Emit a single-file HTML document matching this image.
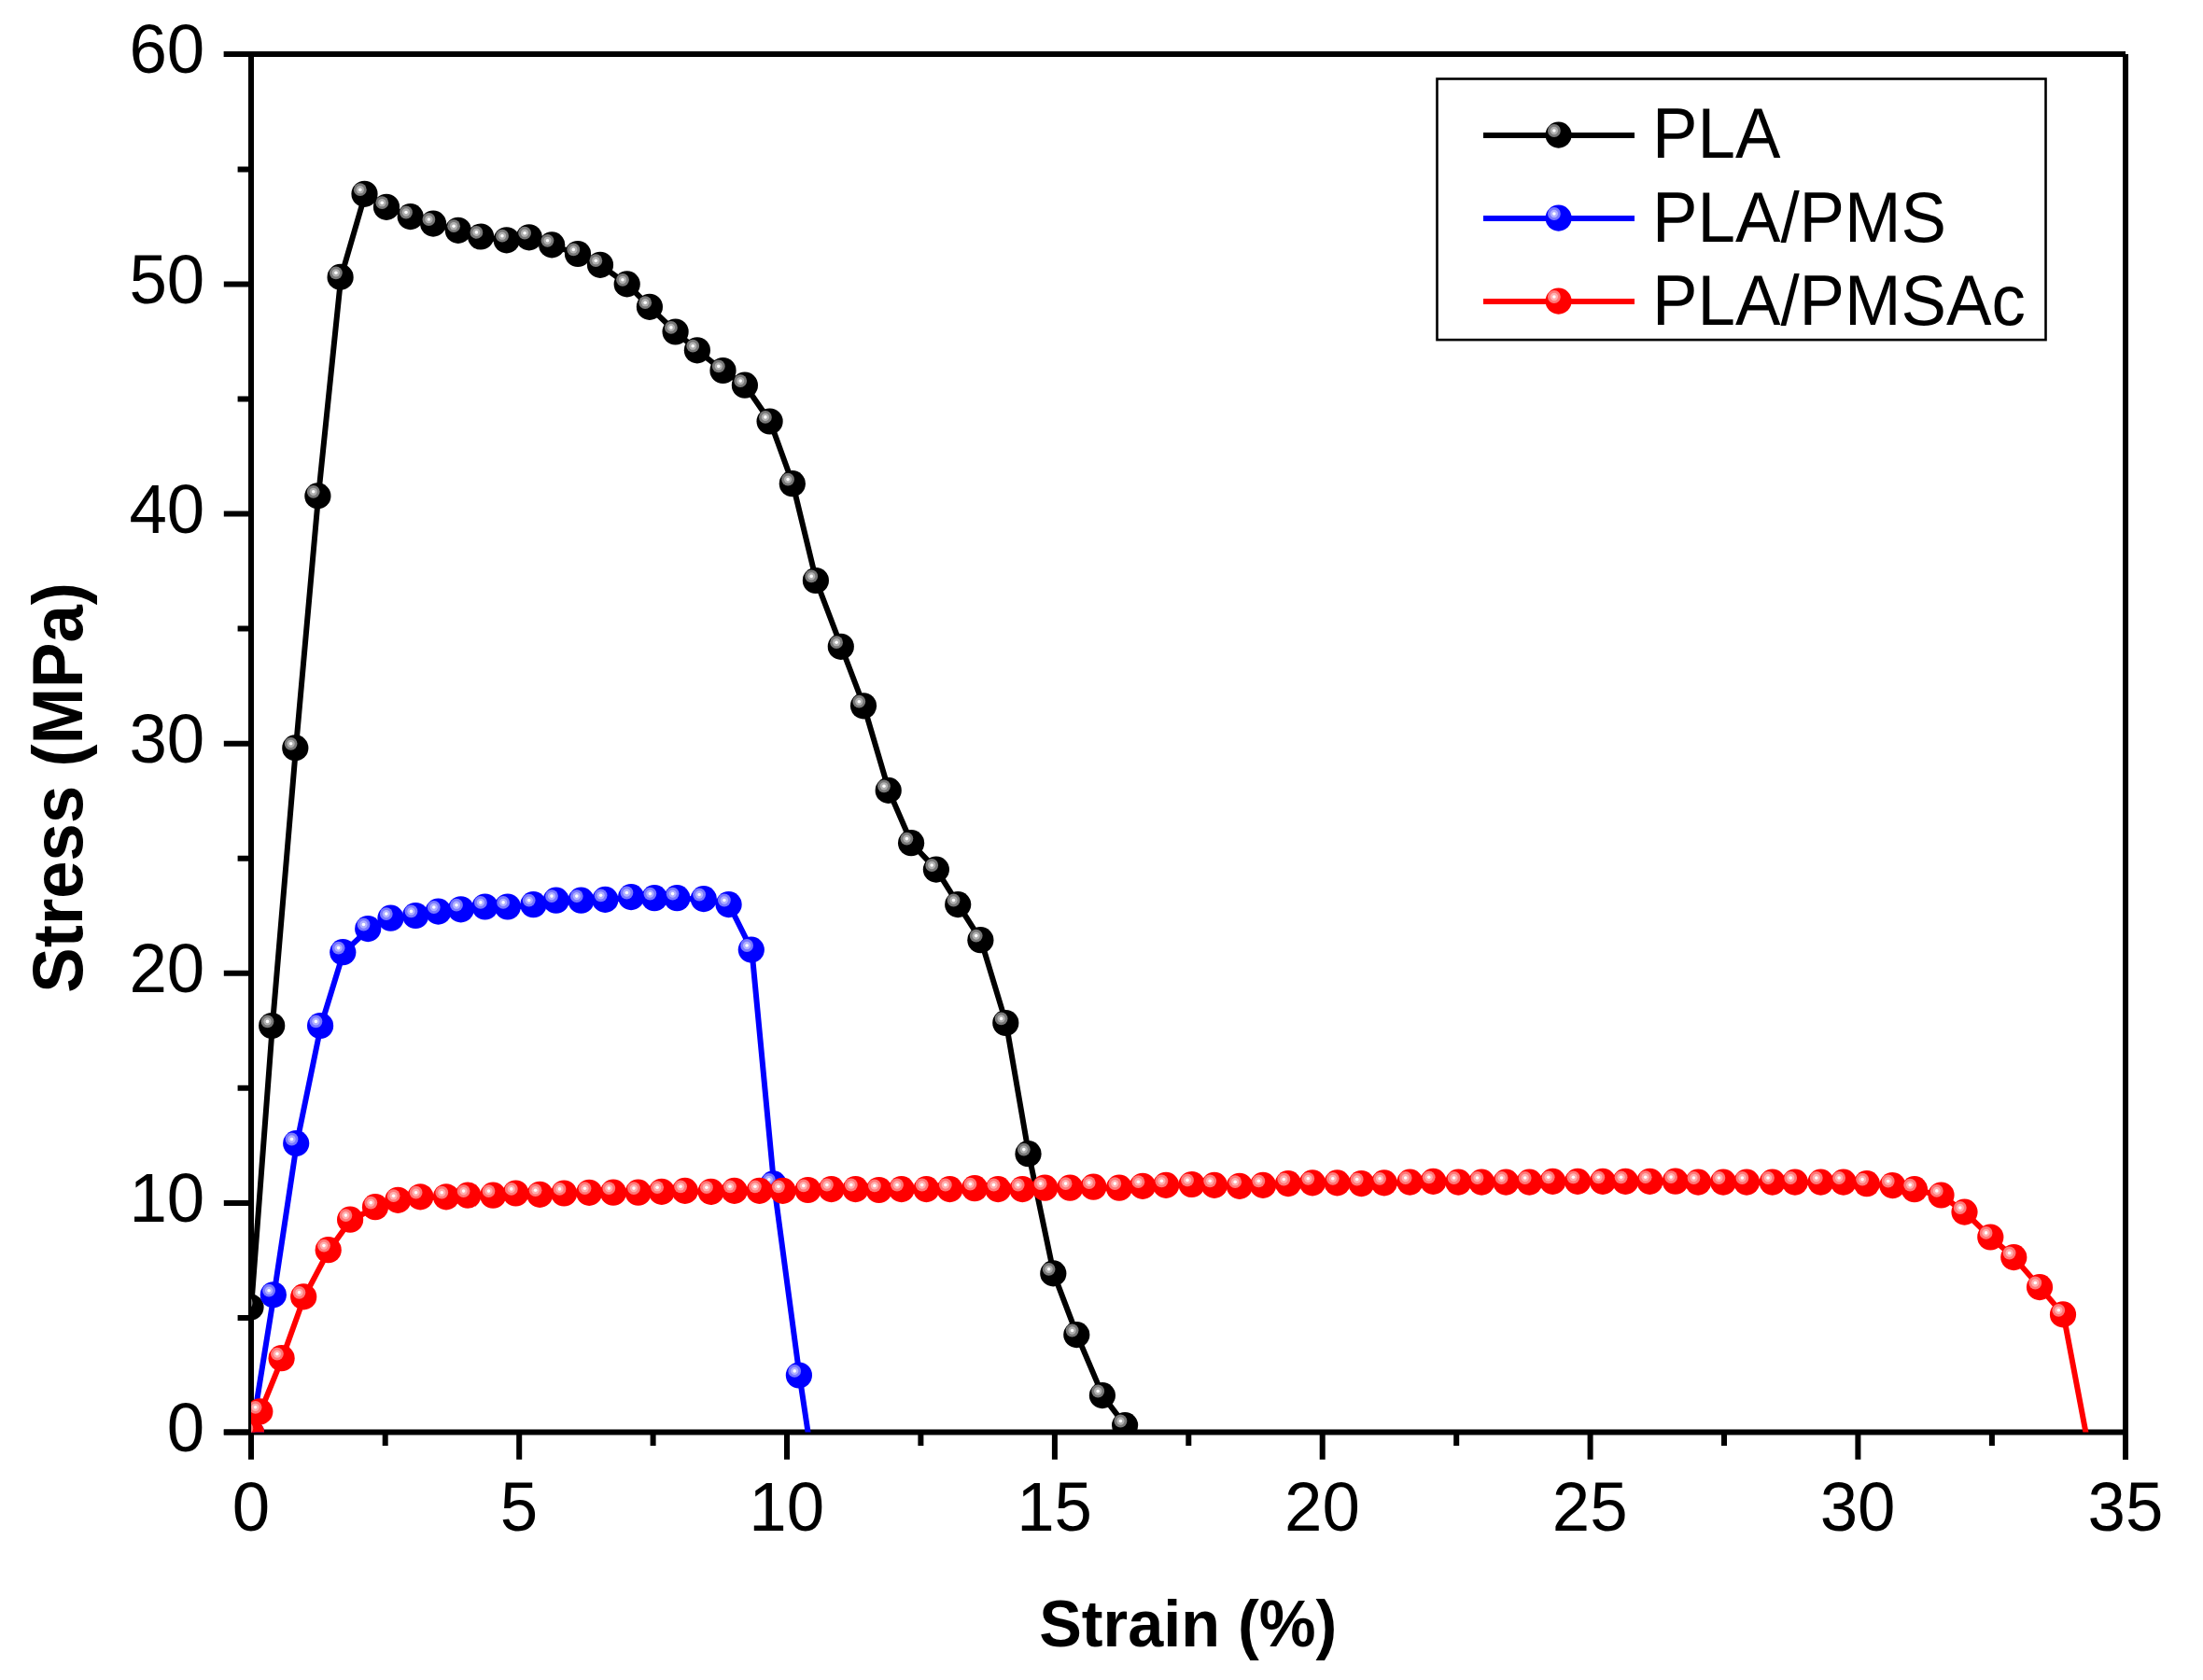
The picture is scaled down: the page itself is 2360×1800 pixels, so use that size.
<!DOCTYPE html>
<html lang="en">
<head>
<meta charset="utf-8">
<title>Stress-Strain curves: PLA, PLA/PMS, PLA/PMSAc</title>
<style>
html,body{margin:0;padding:0;background:#fff;}
body{width:2360px;height:1800px;overflow:hidden;}
svg{display:block;}
text{font-family:"Liberation Sans",sans-serif;fill:#000;}
.tick{font-size:72.7px;}
.leg{font-size:72.7px;}
.ttl{font-weight:bold;}
</style>
</head>
<body>
<svg width="2360" height="1800" viewBox="0 0 2360 1800">
<defs>
<clipPath id="plot"><rect x="269" y="58" width="2008" height="1476.6"/></clipPath>
<g id="hl"><circle cx="-4.7" cy="-4.6" r="6.9" fill="#fff" fill-opacity="0.47"/><circle cx="-4.7" cy="-4.6" r="4.15" fill="#fff" fill-opacity="0.42"/><circle cx="-4.7" cy="-4.6" r="1.8" fill="#fff"/></g>
<g id="mk"><circle r="14.1" fill="#000"/><use href="#hl"/></g>
<g id="mb"><circle r="14.1" fill="#0000ff"/><use href="#hl"/></g>
<g id="mr"><circle r="14.1" fill="#ff0000"/><use href="#hl"/></g>
</defs>
<rect width="2360" height="1800" fill="#fff"/>

<g stroke="#000" stroke-width="6" fill="none" stroke-linecap="butt">
<path d="M269 55 V1537.6"/>
<path d="M2277 58 V1563.8"/>
<path d="M239.8 58 H2277"/>
<path d="M239.8 1534.6 H2277"/>
<path d="M269 1534.6 V1563.8 M412.7 1534.6 V1549 M556.2 1534.6 V1563.8 M699.6 1534.6 V1549 M843 1534.6 V1563.8 M986.4 1534.6 V1549 M1129.9 1534.6 V1563.8 M1273.3 1534.6 V1549 M1416.7 1534.6 V1563.8 M1560.2 1534.6 V1549 M1703.6 1534.6 V1563.8 M1847 1534.6 V1549 M1990.4 1534.6 V1563.8 M2133.9 1534.6 V1549 M2277 1534.6 V1563.8"/>
<path d="M269 1534.6 H239.8 M269 1412 H254.6 M269 1288.9 H239.8 M269 1165.8 H254.6 M269 1042.8 H239.8 M269 919.7 H254.6 M269 796.7 H239.8 M269 673.6 H254.6 M269 550.6 H239.8 M269 427.5 H254.6 M269 304.5 H239.8 M269 181.4 H254.6 M269 58 H239.8"/>
</g>
<g clip-path="url(#plot)">
<path transform="translate(0.6 0.5)" d="M268.5 1400.5 L291.2 1099 L316.3 801.4 L340.4 531.4 L364.6 296.9 L390.5 207.8 L414 221.8 L439.7 232.1 L464.1 239.6 L490.8 246.8 L515.1 253.5 L542.7 257.3 L566.8 254.3 L591.2 262.4 L619 272 L643 283.8 L671.7 304.4 L695.9 328.8 L723.6 355.5 L746.9 375.3 L774.5 397 L797.9 412.7 L824.6 451.5 L848.8 518.2 L873.9 622 L900.8 692.8 L925 756.3 L951.7 846.9 L976.1 903.2 L1002.9 931.6 L1026.2 969.1 L1050.4 1007.2 L1077.3 1096 L1101.5 1236.2 L1128.3 1364.4 L1153.3 1430.1 L1180.9 1495.1 L1205.1 1527.1" fill="none" stroke="#000" stroke-width="6" stroke-linejoin="round" stroke-linecap="butt"/>
<use href="#mk" x="268.5" y="1400.5"/>
<use href="#mk" x="291.2" y="1099"/>
<use href="#mk" x="316.3" y="801.4"/>
<use href="#mk" x="340.4" y="531.4"/>
<use href="#mk" x="364.6" y="296.9"/>
<use href="#mk" x="390.5" y="207.8"/>
<use href="#mk" x="414" y="221.8"/>
<use href="#mk" x="439.7" y="232.1"/>
<use href="#mk" x="464.1" y="239.6"/>
<use href="#mk" x="490.8" y="246.8"/>
<use href="#mk" x="515.1" y="253.5"/>
<use href="#mk" x="542.7" y="257.3"/>
<use href="#mk" x="566.8" y="254.3"/>
<use href="#mk" x="591.2" y="262.4"/>
<use href="#mk" x="619" y="272"/>
<use href="#mk" x="643" y="283.8"/>
<use href="#mk" x="671.7" y="304.4"/>
<use href="#mk" x="695.9" y="328.8"/>
<use href="#mk" x="723.6" y="355.5"/>
<use href="#mk" x="746.9" y="375.3"/>
<use href="#mk" x="774.5" y="397"/>
<use href="#mk" x="797.9" y="412.7"/>
<use href="#mk" x="824.6" y="451.5"/>
<use href="#mk" x="848.8" y="518.2"/>
<use href="#mk" x="873.9" y="622"/>
<use href="#mk" x="900.8" y="692.8"/>
<use href="#mk" x="925" y="756.3"/>
<use href="#mk" x="951.7" y="846.9"/>
<use href="#mk" x="976.1" y="903.2"/>
<use href="#mk" x="1002.9" y="931.6"/>
<use href="#mk" x="1026.2" y="969.1"/>
<use href="#mk" x="1050.4" y="1007.2"/>
<use href="#mk" x="1077.3" y="1096"/>
<use href="#mk" x="1101.5" y="1236.2"/>
<use href="#mk" x="1128.3" y="1364.4"/>
<use href="#mk" x="1153.3" y="1430.1"/>
<use href="#mk" x="1180.9" y="1495.1"/>
<use href="#mk" x="1205.1" y="1527.1"/>
<path transform="translate(0.6 0.5)" d="M269 1535 L292.8 1387.3 L317.2 1225.1 L343.1 1099 L367.3 1020.2 L394.2 995.1 L418.5 983.7 L445.2 981 L469.5 976.6 L493.7 974.3 L519.6 971.5 L543.8 971.5 L571.4 969.2 L595.7 964.7 L622.5 964.7 L648.3 963.9 L676.1 961.1 L701.1 962.2 L725.3 962.2 L753.8 963.1 L780.6 969.1 L804.8 1017.6 L828.5 1268.4 L855.9 1473.5 L866.3 1543" fill="none" stroke="#0000ff" stroke-width="6" stroke-linejoin="round" stroke-linecap="butt"/>
<use href="#mb" x="269" y="1535"/>
<use href="#mb" x="292.8" y="1387.3"/>
<use href="#mb" x="317.2" y="1225.1"/>
<use href="#mb" x="343.1" y="1099"/>
<use href="#mb" x="367.3" y="1020.2"/>
<use href="#mb" x="394.2" y="995.1"/>
<use href="#mb" x="418.5" y="983.7"/>
<use href="#mb" x="445.2" y="981"/>
<use href="#mb" x="469.5" y="976.6"/>
<use href="#mb" x="493.7" y="974.3"/>
<use href="#mb" x="519.6" y="971.5"/>
<use href="#mb" x="543.8" y="971.5"/>
<use href="#mb" x="571.4" y="969.2"/>
<use href="#mb" x="595.7" y="964.7"/>
<use href="#mb" x="622.5" y="964.7"/>
<use href="#mb" x="648.3" y="963.9"/>
<use href="#mb" x="676.1" y="961.1"/>
<use href="#mb" x="701.1" y="962.2"/>
<use href="#mb" x="725.3" y="962.2"/>
<use href="#mb" x="753.8" y="963.1"/>
<use href="#mb" x="780.6" y="969.1"/>
<use href="#mb" x="804.8" y="1017.6"/>
<use href="#mb" x="828.5" y="1268.4"/>
<use href="#mb" x="855.9" y="1473.5"/>
<path transform="translate(0.6 0.5)" d="M269 1535 L278.3 1512.4 L301.6 1455.2 L325.2 1389.4 L351.7 1339.2 L375.1 1306.7 L402 1293.2 L426.3 1285.8 L450.3 1282.3 L478 1282.3 L501.3 1280.7 L528.2 1280.7 L552.5 1278.5 L578.3 1279.8 L604.2 1278.5 L631.2 1277.8 L657 1277.7 L683.7 1277.7 L708.8 1276.8 L733.8 1275.9 L761.6 1276.8 L786.7 1275.9 L813.6 1275.9 L838.6 1275.9 L865.5 1275 L890.6 1274.1 L916.5 1274.1 L941.6 1275 L965.7 1274.1 L992.4 1274.1 L1017.5 1274.1 L1044.1 1273.2 L1069.2 1274.1 L1095.3 1274.1 L1119.3 1272.7 L1146.3 1272.7 L1171.4 1271.7 L1199 1272.7 L1224.1 1270.8 L1249.1 1269.9 L1276.7 1269 L1300.9 1269.9 L1327.9 1270.8 L1353 1269.9 L1380 1268.1 L1406 1267.4 L1432.5 1267.4 L1458.4 1268.1 L1482.8 1267.4 L1510.4 1266.6 L1535.4 1265.9 L1562.3 1266.6 L1587.2 1266.6 L1613.3 1266.6 L1638.4 1266.6 L1663.4 1265.9 L1690.1 1265.9 L1717 1265.9 L1741.3 1265.9 L1767.4 1265.8 L1794.8 1265.7 L1819.2 1266.6 L1846.1 1266.6 L1871.1 1266.6 L1898.7 1266.6 L1922.9 1266.6 L1950.5 1266.6 L1974.8 1266.6 L1999.8 1268.2 L2027.4 1270.1 L2050.9 1274.2 L2079.5 1280.5 L2104.5 1298.6 L2132.3 1325.5 L2157.3 1347.1 L2185 1379.1 L2210 1408.4 L2235.5 1543" fill="none" stroke="#ff0000" stroke-width="6" stroke-linejoin="round" stroke-linecap="butt"/>
<use href="#mr" x="269" y="1535"/>
<use href="#mr" x="278.3" y="1512.4"/>
<use href="#mr" x="301.6" y="1455.2"/>
<use href="#mr" x="325.2" y="1389.4"/>
<use href="#mr" x="351.7" y="1339.2"/>
<use href="#mr" x="375.1" y="1306.7"/>
<use href="#mr" x="402" y="1293.2"/>
<use href="#mr" x="426.3" y="1285.8"/>
<use href="#mr" x="450.3" y="1282.3"/>
<use href="#mr" x="478" y="1282.3"/>
<use href="#mr" x="501.3" y="1280.7"/>
<use href="#mr" x="528.2" y="1280.7"/>
<use href="#mr" x="552.5" y="1278.5"/>
<use href="#mr" x="578.3" y="1279.8"/>
<use href="#mr" x="604.2" y="1278.5"/>
<use href="#mr" x="631.2" y="1277.8"/>
<use href="#mr" x="657" y="1277.7"/>
<use href="#mr" x="683.7" y="1277.7"/>
<use href="#mr" x="708.8" y="1276.8"/>
<use href="#mr" x="733.8" y="1275.9"/>
<use href="#mr" x="761.6" y="1276.8"/>
<use href="#mr" x="786.7" y="1275.9"/>
<use href="#mr" x="813.6" y="1275.9"/>
<use href="#mr" x="838.6" y="1275.9"/>
<use href="#mr" x="865.5" y="1275"/>
<use href="#mr" x="890.6" y="1274.1"/>
<use href="#mr" x="916.5" y="1274.1"/>
<use href="#mr" x="941.6" y="1275"/>
<use href="#mr" x="965.7" y="1274.1"/>
<use href="#mr" x="992.4" y="1274.1"/>
<use href="#mr" x="1017.5" y="1274.1"/>
<use href="#mr" x="1044.1" y="1273.2"/>
<use href="#mr" x="1069.2" y="1274.1"/>
<use href="#mr" x="1095.3" y="1274.1"/>
<use href="#mr" x="1119.3" y="1272.7"/>
<use href="#mr" x="1146.3" y="1272.7"/>
<use href="#mr" x="1171.4" y="1271.7"/>
<use href="#mr" x="1199" y="1272.7"/>
<use href="#mr" x="1224.1" y="1270.8"/>
<use href="#mr" x="1249.1" y="1269.9"/>
<use href="#mr" x="1276.7" y="1269"/>
<use href="#mr" x="1300.9" y="1269.9"/>
<use href="#mr" x="1327.9" y="1270.8"/>
<use href="#mr" x="1353" y="1269.9"/>
<use href="#mr" x="1380" y="1268.1"/>
<use href="#mr" x="1406" y="1267.4"/>
<use href="#mr" x="1432.5" y="1267.4"/>
<use href="#mr" x="1458.4" y="1268.1"/>
<use href="#mr" x="1482.8" y="1267.4"/>
<use href="#mr" x="1510.4" y="1266.6"/>
<use href="#mr" x="1535.4" y="1265.9"/>
<use href="#mr" x="1562.3" y="1266.6"/>
<use href="#mr" x="1587.2" y="1266.6"/>
<use href="#mr" x="1613.3" y="1266.6"/>
<use href="#mr" x="1638.4" y="1266.6"/>
<use href="#mr" x="1663.4" y="1265.9"/>
<use href="#mr" x="1690.1" y="1265.9"/>
<use href="#mr" x="1717" y="1265.9"/>
<use href="#mr" x="1741.3" y="1265.9"/>
<use href="#mr" x="1767.4" y="1265.8"/>
<use href="#mr" x="1794.8" y="1265.7"/>
<use href="#mr" x="1819.2" y="1266.6"/>
<use href="#mr" x="1846.1" y="1266.6"/>
<use href="#mr" x="1871.1" y="1266.6"/>
<use href="#mr" x="1898.7" y="1266.6"/>
<use href="#mr" x="1922.9" y="1266.6"/>
<use href="#mr" x="1950.5" y="1266.6"/>
<use href="#mr" x="1974.8" y="1266.6"/>
<use href="#mr" x="1999.8" y="1268.2"/>
<use href="#mr" x="2027.4" y="1270.1"/>
<use href="#mr" x="2050.9" y="1274.2"/>
<use href="#mr" x="2079.5" y="1280.5"/>
<use href="#mr" x="2104.5" y="1298.6"/>
<use href="#mr" x="2132.3" y="1325.5"/>
<use href="#mr" x="2157.3" y="1347.1"/>
<use href="#mr" x="2185" y="1379.1"/>
<use href="#mr" x="2210" y="1408.4"/>
</g>
<text class="tick" transform="translate(219.3 1555) scale(1 1.025)" text-anchor="end">0</text>
<text class="tick" transform="translate(219.3 1308.9) scale(1 1.025)" text-anchor="end">10</text>
<text class="tick" transform="translate(219.3 1062.8) scale(1 1.025)" text-anchor="end">20</text>
<text class="tick" transform="translate(219.3 816.7) scale(1 1.025)" text-anchor="end">30</text>
<text class="tick" transform="translate(219.3 570.6) scale(1 1.025)" text-anchor="end">40</text>
<text class="tick" transform="translate(219.3 324.5) scale(1 1.025)" text-anchor="end">50</text>
<text class="tick" transform="translate(219.3 78.4) scale(1 1.025)" text-anchor="end">60</text>
<text class="tick" transform="translate(269 1639.8) scale(1 1.025)" text-anchor="middle">0</text>
<text class="tick" transform="translate(555.9 1639.8) scale(1 1.025)" text-anchor="middle">5</text>
<text class="tick" transform="translate(842.7 1639.8) scale(1 1.025)" text-anchor="middle">10</text>
<text class="tick" transform="translate(1129.6 1639.8) scale(1 1.025)" text-anchor="middle">15</text>
<text class="tick" transform="translate(1416.4 1639.8) scale(1 1.025)" text-anchor="middle">20</text>
<text class="tick" transform="translate(1703.3 1639.8) scale(1 1.025)" text-anchor="middle">25</text>
<text class="tick" transform="translate(1990.1 1639.8) scale(1 1.025)" text-anchor="middle">30</text>
<text class="tick" transform="translate(2277 1639.8) scale(1 1.025)" text-anchor="middle">35</text>
<text class="ttl" transform="translate(1272.7 1764) scale(0.984 1)" text-anchor="middle" font-size="69.5">Strain (%)</text>
<text class="ttl" transform="translate(87.6 843.8) rotate(-90) scale(1 1.037)" text-anchor="middle" font-size="72.6">Stress (MPa)</text>
<rect x="1539.5" y="84.5" width="652" height="279.6" fill="#fff" stroke="#000" stroke-width="2.6"/>
<path d="M1589 145 H1751" stroke="#000" stroke-width="6" fill="none"/>
<use href="#mk" x="1669.6" y="144.6"/>
<text class="leg" transform="translate(1770 169.4) scale(1 1.04)">PLA</text>
<path d="M1589 234 H1751" stroke="#0000ff" stroke-width="6" fill="none"/>
<use href="#mb" x="1669.6" y="233.6"/>
<text class="leg" transform="translate(1770 259) scale(1 1.04)">PLA/PMS</text>
<path d="M1589 323 H1751" stroke="#ff0000" stroke-width="6" fill="none"/>
<use href="#mr" x="1669.6" y="322.6"/>
<text class="leg" transform="translate(1770 348) scale(1 1.04)">PLA/PMSAc</text>
</svg>
</body>
</html>
